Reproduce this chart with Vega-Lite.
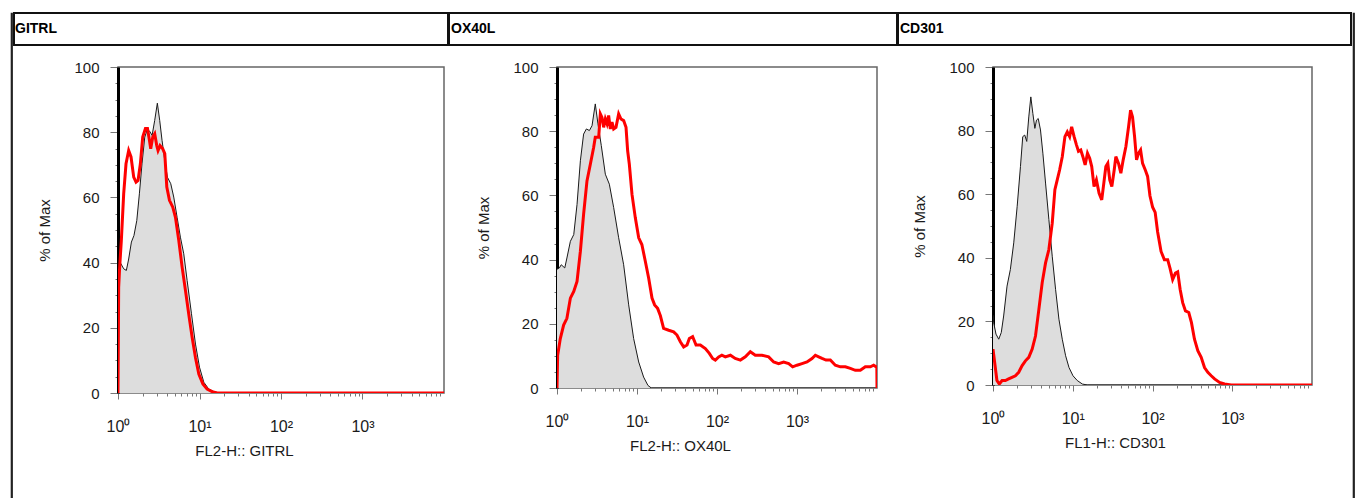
{
  "$schema": "https://vega.github.io/schema/vega-lite/v6.json",
  "padding": {"left": 10, "top": 12, "right": 0, "bottom": 0},
  "background": "white",
  "config": {
    "font": "Liberation Sans",
    "view": {"stroke": null},
    "axis": {"labelFont": "Liberation Sans", "titleFont": "Liberation Sans", "labelColor": "#1a1a1a", "titleColor": "#1a1a1a", "tickColor": "#777777", "grid": false, "labelFontSize": 15, "titleFontSize": 15, "titleFontWeight": "normal"}
  },
  "datasets": {
    "headers": [{"h": "GITRL"}, {"h": "OX40L"}, {"h": "CD301"}],
    "hist": [
      {"p": "GITRL", "s": "iso", "x": 1.0, "y": 38}, {"p": "GITRL", "s": "iso", "x": 1.04, "y": 38.6}, {"p": "GITRL", "s": "iso", "x": 1.078, "y": 39.8}, {"p": "GITRL", "s": "iso", "x": 1.174, "y": 38.1}, {"p": "GITRL", "s": "iso", "x": 1.266, "y": 37.6}, {"p": "GITRL", "s": "iso", "x": 1.352, "y": 41.1}, {"p": "GITRL", "s": "iso", "x": 1.46, "y": 46.3}, {"p": "GITRL", "s": "iso", "x": 1.57, "y": 48.3}, {"p": "GITRL", "s": "iso", "x": 1.7, "y": 52.9}, {"p": "GITRL", "s": "iso", "x": 1.83, "y": 61.1}, {"p": "GITRL", "s": "iso", "x": 1.97, "y": 70.3}, {"p": "GITRL", "s": "iso", "x": 2.13, "y": 78.5}, {"p": "GITRL", "s": "iso", "x": 2.27, "y": 80.6}, {"p": "GITRL", "s": "iso", "x": 2.45, "y": 80.3}, {"p": "GITRL", "s": "iso", "x": 2.62, "y": 79.0}, {"p": "GITRL", "s": "iso", "x": 2.82, "y": 83.6}, {"p": "GITRL", "s": "iso", "x": 3.04, "y": 88.9}, {"p": "GITRL", "s": "iso", "x": 3.25, "y": 83.6}, {"p": "GITRL", "s": "iso", "x": 3.47, "y": 77.5}, {"p": "GITRL", "s": "iso", "x": 3.75, "y": 71.3}, {"p": "GITRL", "s": "iso", "x": 4.04, "y": 66.2}, {"p": "GITRL", "s": "iso", "x": 4.44, "y": 64.2}, {"p": "GITRL", "s": "iso", "x": 4.83, "y": 60.1}, {"p": "GITRL", "s": "iso", "x": 5.31, "y": 53.9}, {"p": "GITRL", "s": "iso", "x": 5.83, "y": 47.8}, {"p": "GITRL", "s": "iso", "x": 6.41, "y": 42.7}, {"p": "GITRL", "s": "iso", "x": 7.05, "y": 34.5}, {"p": "GITRL", "s": "iso", "x": 7.97, "y": 24.3}, {"p": "GITRL", "s": "iso", "x": 8.93, "y": 15.0}, {"p": "GITRL", "s": "iso", "x": 10.0, "y": 7.9}, {"p": "GITRL", "s": "iso", "x": 11.3, "y": 3.3}, {"p": "GITRL", "s": "iso", "x": 13.0, "y": 1.2}, {"p": "GITRL", "s": "iso", "x": 15.4, "y": 0.3}, {"p": "GITRL", "s": "iso", "x": 18.1, "y": 0}, {"p": "GITRL", "s": "iso", "x": 10000, "y": 0},
      {"p": "GITRL", "s": "red", "x": 1.0, "y": 0}, {"p": "GITRL", "s": "red", "x": 1.019, "y": 32.4}, {"p": "GITRL", "s": "red", "x": 1.048, "y": 38.6}, {"p": "GITRL", "s": "red", "x": 1.099, "y": 46.8}, {"p": "GITRL", "s": "red", "x": 1.174, "y": 61.1}, {"p": "GITRL", "s": "red", "x": 1.254, "y": 70.3}, {"p": "GITRL", "s": "red", "x": 1.352, "y": 74.4}, {"p": "GITRL", "s": "red", "x": 1.445, "y": 72.4}, {"p": "GITRL", "s": "red", "x": 1.559, "y": 66.2}, {"p": "GITRL", "s": "red", "x": 1.665, "y": 64.7}, {"p": "GITRL", "s": "red", "x": 1.762, "y": 65.2}, {"p": "GITRL", "s": "red", "x": 1.882, "y": 70.3}, {"p": "GITRL", "s": "red", "x": 2.01, "y": 78.5}, {"p": "GITRL", "s": "red", "x": 2.17, "y": 81.1}, {"p": "GITRL", "s": "red", "x": 2.3, "y": 81.1}, {"p": "GITRL", "s": "red", "x": 2.43, "y": 77.5}, {"p": "GITRL", "s": "red", "x": 2.52, "y": 74.9}, {"p": "GITRL", "s": "red", "x": 2.67, "y": 78.5}, {"p": "GITRL", "s": "red", "x": 2.82, "y": 79.5}, {"p": "GITRL", "s": "red", "x": 2.99, "y": 75.9}, {"p": "GITRL", "s": "red", "x": 3.1, "y": 74.4}, {"p": "GITRL", "s": "red", "x": 3.28, "y": 75.9}, {"p": "GITRL", "s": "red", "x": 3.54, "y": 74.9}, {"p": "GITRL", "s": "red", "x": 3.75, "y": 73.4}, {"p": "GITRL", "s": "red", "x": 3.97, "y": 63.2}, {"p": "GITRL", "s": "red", "x": 4.28, "y": 59.1}, {"p": "GITRL", "s": "red", "x": 4.7, "y": 57.0}, {"p": "GITRL", "s": "red", "x": 5.07, "y": 53.9}, {"p": "GITRL", "s": "red", "x": 5.57, "y": 46.8}, {"p": "GITRL", "s": "red", "x": 6.12, "y": 38.6}, {"p": "GITRL", "s": "red", "x": 6.73, "y": 31.4}, {"p": "GITRL", "s": "red", "x": 7.39, "y": 24.1}, {"p": "GITRL", "s": "red", "x": 8.13, "y": 17.0}, {"p": "GITRL", "s": "red", "x": 8.93, "y": 10.8}, {"p": "GITRL", "s": "red", "x": 9.81, "y": 5.8}, {"p": "GITRL", "s": "red", "x": 11.0, "y": 2.8}, {"p": "GITRL", "s": "red", "x": 12.4, "y": 1.2}, {"p": "GITRL", "s": "red", "x": 14.3, "y": 0.4}, {"p": "GITRL", "s": "red", "x": 16.5, "y": 0}, {"p": "GITRL", "s": "red", "x": 10000, "y": 0},
      {"p": "OX40L", "s": "iso", "x": 1.0, "y": 37}, {"p": "OX40L", "s": "iso", "x": 1.07, "y": 37.4}, {"p": "OX40L", "s": "iso", "x": 1.13, "y": 38.4}, {"p": "OX40L", "s": "iso", "x": 1.25, "y": 37.4}, {"p": "OX40L", "s": "iso", "x": 1.33, "y": 40.5}, {"p": "OX40L", "s": "iso", "x": 1.47, "y": 45.7}, {"p": "OX40L", "s": "iso", "x": 1.62, "y": 47.8}, {"p": "OX40L", "s": "iso", "x": 1.78, "y": 57.2}, {"p": "OX40L", "s": "iso", "x": 1.96, "y": 70.8}, {"p": "OX40L", "s": "iso", "x": 2.15, "y": 79.1}, {"p": "OX40L", "s": "iso", "x": 2.33, "y": 80.7}, {"p": "OX40L", "s": "iso", "x": 2.54, "y": 80.2}, {"p": "OX40L", "s": "iso", "x": 2.74, "y": 81.7}, {"p": "OX40L", "s": "iso", "x": 3.01, "y": 88.5}, {"p": "OX40L", "s": "iso", "x": 3.25, "y": 82.3}, {"p": "OX40L", "s": "iso", "x": 3.58, "y": 75.5}, {"p": "OX40L", "s": "iso", "x": 4.02, "y": 66.6}, {"p": "OX40L", "s": "iso", "x": 4.51, "y": 63.5}, {"p": "OX40L", "s": "iso", "x": 5.11, "y": 56.2}, {"p": "OX40L", "s": "iso", "x": 5.9, "y": 46.8}, {"p": "OX40L", "s": "iso", "x": 6.81, "y": 38.4}, {"p": "OX40L", "s": "iso", "x": 7.87, "y": 25.9}, {"p": "OX40L", "s": "iso", "x": 9.08, "y": 15.4}, {"p": "OX40L", "s": "iso", "x": 10.5, "y": 8.1}, {"p": "OX40L", "s": "iso", "x": 12.1, "y": 3.4}, {"p": "OX40L", "s": "iso", "x": 13.7, "y": 0.8}, {"p": "OX40L", "s": "iso", "x": 15.1, "y": 0}, {"p": "OX40L", "s": "iso", "x": 10000, "y": 0},
      {"p": "OX40L", "s": "red", "x": 1.0, "y": 0}, {"p": "OX40L", "s": "red", "x": 1.019, "y": 10.2}, {"p": "OX40L", "s": "red", "x": 1.1, "y": 15.4}, {"p": "OX40L", "s": "red", "x": 1.21, "y": 19.6}, {"p": "OX40L", "s": "red", "x": 1.33, "y": 21.7}, {"p": "OX40L", "s": "red", "x": 1.47, "y": 28.0}, {"p": "OX40L", "s": "red", "x": 1.62, "y": 30.1}, {"p": "OX40L", "s": "red", "x": 1.78, "y": 33.2}, {"p": "OX40L", "s": "red", "x": 1.96, "y": 42.6}, {"p": "OX40L", "s": "red", "x": 2.15, "y": 54.1}, {"p": "OX40L", "s": "red", "x": 2.37, "y": 64.5}, {"p": "OX40L", "s": "red", "x": 2.61, "y": 69.7}, {"p": "OX40L", "s": "red", "x": 2.87, "y": 74.9}, {"p": "OX40L", "s": "red", "x": 3.01, "y": 78.1}, {"p": "OX40L", "s": "red", "x": 3.32, "y": 78.1}, {"p": "OX40L", "s": "red", "x": 3.48, "y": 85.4}, {"p": "OX40L", "s": "red", "x": 3.65, "y": 84.3}, {"p": "OX40L", "s": "red", "x": 3.83, "y": 81.2}, {"p": "OX40L", "s": "red", "x": 4.02, "y": 83.8}, {"p": "OX40L", "s": "red", "x": 4.22, "y": 82.3}, {"p": "OX40L", "s": "red", "x": 4.42, "y": 84.9}, {"p": "OX40L", "s": "red", "x": 4.64, "y": 80.7}, {"p": "OX40L", "s": "red", "x": 4.87, "y": 82.8}, {"p": "OX40L", "s": "red", "x": 5.11, "y": 80.7}, {"p": "OX40L", "s": "red", "x": 5.46, "y": 81.2}, {"p": "OX40L", "s": "red", "x": 5.9, "y": 85.4}, {"p": "OX40L", "s": "red", "x": 6.31, "y": 83.8}, {"p": "OX40L", "s": "red", "x": 6.81, "y": 83.3}, {"p": "OX40L", "s": "red", "x": 7.29, "y": 81.2}, {"p": "OX40L", "s": "red", "x": 7.64, "y": 73.9}, {"p": "OX40L", "s": "red", "x": 8.02, "y": 69.7}, {"p": "OX40L", "s": "red", "x": 8.66, "y": 60.3}, {"p": "OX40L", "s": "red", "x": 9.53, "y": 53.0}, {"p": "OX40L", "s": "red", "x": 10.5, "y": 46.8}, {"p": "OX40L", "s": "red", "x": 11.5, "y": 44.7}, {"p": "OX40L", "s": "red", "x": 12.7, "y": 39.5}, {"p": "OX40L", "s": "red", "x": 14.0, "y": 34.2}, {"p": "OX40L", "s": "red", "x": 15.4, "y": 28.0}, {"p": "OX40L", "s": "red", "x": 16.6, "y": 25.9}, {"p": "OX40L", "s": "red", "x": 18.1, "y": 24.8}, {"p": "OX40L", "s": "red", "x": 19.6, "y": 22.5}, {"p": "OX40L", "s": "red", "x": 21.5, "y": 18.6}, {"p": "OX40L", "s": "red", "x": 24.9, "y": 18.0}, {"p": "OX40L", "s": "red", "x": 28.7, "y": 17.5}, {"p": "OX40L", "s": "red", "x": 31.6, "y": 16.5}, {"p": "OX40L", "s": "red", "x": 34.8, "y": 14.4}, {"p": "OX40L", "s": "red", "x": 38.3, "y": 12.8}, {"p": "OX40L", "s": "red", "x": 42.2, "y": 13.4}, {"p": "OX40L", "s": "red", "x": 45.1, "y": 15.4}, {"p": "OX40L", "s": "red", "x": 49.6, "y": 16.0}, {"p": "OX40L", "s": "red", "x": 54.7, "y": 13.4}, {"p": "OX40L", "s": "red", "x": 61.9, "y": 13.4}, {"p": "OX40L", "s": "red", "x": 71.5, "y": 12.3}, {"p": "OX40L", "s": "red", "x": 80.2, "y": 10.8}, {"p": "OX40L", "s": "red", "x": 88.2, "y": 9.2}, {"p": "OX40L", "s": "red", "x": 95.3, "y": 8.7}, {"p": "OX40L", "s": "red", "x": 105, "y": 9.7}, {"p": "OX40L", "s": "red", "x": 115, "y": 10.2}, {"p": "OX40L", "s": "red", "x": 127, "y": 9.7}, {"p": "OX40L", "s": "red", "x": 147, "y": 10.2}, {"p": "OX40L", "s": "red", "x": 169, "y": 9.2}, {"p": "OX40L", "s": "red", "x": 196, "y": 8.7}, {"p": "OX40L", "s": "red", "x": 226, "y": 9.7}, {"p": "OX40L", "s": "red", "x": 261, "y": 11.3}, {"p": "OX40L", "s": "red", "x": 301, "y": 10.2}, {"p": "OX40L", "s": "red", "x": 365, "y": 10.2}, {"p": "OX40L", "s": "red", "x": 442, "y": 9.7}, {"p": "OX40L", "s": "red", "x": 511, "y": 8.1}, {"p": "OX40L", "s": "red", "x": 590, "y": 7.6}, {"p": "OX40L", "s": "red", "x": 681, "y": 8.1}, {"p": "OX40L", "s": "red", "x": 787, "y": 7.6}, {"p": "OX40L", "s": "red", "x": 883, "y": 6.6}, {"p": "OX40L", "s": "red", "x": 1000, "y": 7.1}, {"p": "OX40L", "s": "red", "x": 1155, "y": 7.6}, {"p": "OX40L", "s": "red", "x": 1334, "y": 8.1}, {"p": "OX40L", "s": "red", "x": 1540, "y": 9.2}, {"p": "OX40L", "s": "red", "x": 1695, "y": 10.2}, {"p": "OX40L", "s": "red", "x": 1866, "y": 9.7}, {"p": "OX40L", "s": "red", "x": 2054, "y": 9.2}, {"p": "OX40L", "s": "red", "x": 2305, "y": 8.7}, {"p": "OX40L", "s": "red", "x": 2610, "y": 8.7}, {"p": "OX40L", "s": "red", "x": 3013, "y": 7.1}, {"p": "OX40L", "s": "red", "x": 3481, "y": 6.6}, {"p": "OX40L", "s": "red", "x": 4019, "y": 6.6}, {"p": "OX40L", "s": "red", "x": 4642, "y": 6.1}, {"p": "OX40L", "s": "red", "x": 5359, "y": 5.5}, {"p": "OX40L", "s": "red", "x": 6190, "y": 5.5}, {"p": "OX40L", "s": "red", "x": 7145, "y": 6.6}, {"p": "OX40L", "s": "red", "x": 8254, "y": 6.6}, {"p": "OX40L", "s": "red", "x": 9082, "y": 7.1}, {"p": "OX40L", "s": "red", "x": 9716, "y": 6.6}, {"p": "OX40L", "s": "red", "x": 9950, "y": 6.6}, {"p": "OX40L", "s": "red", "x": 10000, "y": 0},
      {"p": "CD301", "s": "iso", "x": 1.0, "y": 22}, {"p": "CD301", "s": "iso", "x": 1.02, "y": 19.6}, {"p": "CD301", "s": "iso", "x": 1.09, "y": 16.0}, {"p": "CD301", "s": "iso", "x": 1.18, "y": 14.4}, {"p": "CD301", "s": "iso", "x": 1.27, "y": 16.5}, {"p": "CD301", "s": "iso", "x": 1.36, "y": 21.7}, {"p": "CD301", "s": "iso", "x": 1.5, "y": 31.1}, {"p": "CD301", "s": "iso", "x": 1.65, "y": 36.3}, {"p": "CD301", "s": "iso", "x": 1.82, "y": 44.7}, {"p": "CD301", "s": "iso", "x": 2.01, "y": 56.2}, {"p": "CD301", "s": "iso", "x": 2.21, "y": 68.7}, {"p": "CD301", "s": "iso", "x": 2.36, "y": 78.1}, {"p": "CD301", "s": "iso", "x": 2.5, "y": 78.6}, {"p": "CD301", "s": "iso", "x": 2.65, "y": 76.6}, {"p": "CD301", "s": "iso", "x": 2.81, "y": 84.3}, {"p": "CD301", "s": "iso", "x": 2.98, "y": 90.6}, {"p": "CD301", "s": "iso", "x": 3.16, "y": 85.4}, {"p": "CD301", "s": "iso", "x": 3.35, "y": 80.7}, {"p": "CD301", "s": "iso", "x": 3.51, "y": 83.3}, {"p": "CD301", "s": "iso", "x": 3.69, "y": 83.8}, {"p": "CD301", "s": "iso", "x": 3.94, "y": 80.2}, {"p": "CD301", "s": "iso", "x": 4.22, "y": 72.9}, {"p": "CD301", "s": "iso", "x": 4.56, "y": 63.5}, {"p": "CD301", "s": "iso", "x": 5.02, "y": 52.0}, {"p": "CD301", "s": "iso", "x": 5.53, "y": 40.5}, {"p": "CD301", "s": "iso", "x": 6.09, "y": 30.1}, {"p": "CD301", "s": "iso", "x": 6.71, "y": 20.7}, {"p": "CD301", "s": "iso", "x": 7.39, "y": 14.4}, {"p": "CD301", "s": "iso", "x": 8.14, "y": 9.2}, {"p": "CD301", "s": "iso", "x": 8.97, "y": 5.5}, {"p": "CD301", "s": "iso", "x": 10.07, "y": 2.9}, {"p": "CD301", "s": "iso", "x": 11.4, "y": 1.4}, {"p": "CD301", "s": "iso", "x": 13.2, "y": 0.3}, {"p": "CD301", "s": "iso", "x": 15.3, "y": 0}, {"p": "CD301", "s": "iso", "x": 10000, "y": 0},
      {"p": "CD301", "s": "red", "x": 1.0, "y": 11.3}, {"p": "CD301", "s": "red", "x": 1.12, "y": 1.4}, {"p": "CD301", "s": "red", "x": 1.2, "y": 0.3}, {"p": "CD301", "s": "red", "x": 1.3, "y": 1.4}, {"p": "CD301", "s": "red", "x": 1.43, "y": 1.4}, {"p": "CD301", "s": "red", "x": 1.57, "y": 1.9}, {"p": "CD301", "s": "red", "x": 1.73, "y": 2.4}, {"p": "CD301", "s": "red", "x": 1.91, "y": 2.9}, {"p": "CD301", "s": "red", "x": 2.1, "y": 4.0}, {"p": "CD301", "s": "red", "x": 2.32, "y": 6.1}, {"p": "CD301", "s": "red", "x": 2.55, "y": 7.6}, {"p": "CD301", "s": "red", "x": 2.81, "y": 8.7}, {"p": "CD301", "s": "red", "x": 3.1, "y": 11.3}, {"p": "CD301", "s": "red", "x": 3.41, "y": 15.4}, {"p": "CD301", "s": "red", "x": 3.76, "y": 23.8}, {"p": "CD301", "s": "red", "x": 4.14, "y": 32.2}, {"p": "CD301", "s": "red", "x": 4.56, "y": 38.4}, {"p": "CD301", "s": "red", "x": 5.02, "y": 42.6}, {"p": "CD301", "s": "red", "x": 5.53, "y": 50.9}, {"p": "CD301", "s": "red", "x": 5.97, "y": 61.4}, {"p": "CD301", "s": "red", "x": 6.39, "y": 64.5}, {"p": "CD301", "s": "red", "x": 6.84, "y": 67.6}, {"p": "CD301", "s": "red", "x": 7.39, "y": 71.8}, {"p": "CD301", "s": "red", "x": 7.98, "y": 78.1}, {"p": "CD301", "s": "red", "x": 8.54, "y": 79.6}, {"p": "CD301", "s": "red", "x": 9.14, "y": 78.1}, {"p": "CD301", "s": "red", "x": 9.69, "y": 81.2}, {"p": "CD301", "s": "red", "x": 10.4, "y": 78.1}, {"p": "CD301", "s": "red", "x": 11.1, "y": 75.6}, {"p": "CD301", "s": "red", "x": 11.8, "y": 73.5}, {"p": "CD301", "s": "red", "x": 12.6, "y": 73.9}, {"p": "CD301", "s": "red", "x": 13.4, "y": 71.8}, {"p": "CD301", "s": "red", "x": 14.3, "y": 69.2}, {"p": "CD301", "s": "red", "x": 15.3, "y": 72.9}, {"p": "CD301", "s": "red", "x": 16.3, "y": 71.3}, {"p": "CD301", "s": "red", "x": 17.3, "y": 68.7}, {"p": "CD301", "s": "red", "x": 18.5, "y": 62.4}, {"p": "CD301", "s": "red", "x": 19.8, "y": 64.5}, {"p": "CD301", "s": "red", "x": 21.4, "y": 60.3}, {"p": "CD301", "s": "red", "x": 23.1, "y": 58.2}, {"p": "CD301", "s": "red", "x": 24.5, "y": 63.4}, {"p": "CD301", "s": "red", "x": 26.0, "y": 68.7}, {"p": "CD301", "s": "red", "x": 27.5, "y": 69.7}, {"p": "CD301", "s": "red", "x": 29.1, "y": 64.5}, {"p": "CD301", "s": "red", "x": 30.9, "y": 62.4}, {"p": "CD301", "s": "red", "x": 33.1, "y": 67.6}, {"p": "CD301", "s": "red", "x": 34.7, "y": 71.8}, {"p": "CD301", "s": "red", "x": 37.5, "y": 69.7}, {"p": "CD301", "s": "red", "x": 40.1, "y": 66.6}, {"p": "CD301", "s": "red", "x": 42.9, "y": 70.8}, {"p": "CD301", "s": "red", "x": 46.4, "y": 75.0}, {"p": "CD301", "s": "red", "x": 50.1, "y": 81.2}, {"p": "CD301", "s": "red", "x": 53.1, "y": 86.4}, {"p": "CD301", "s": "red", "x": 56.2, "y": 84.3}, {"p": "CD301", "s": "red", "x": 59.6, "y": 78.1}, {"p": "CD301", "s": "red", "x": 63.1, "y": 70.8}, {"p": "CD301", "s": "red", "x": 66.9, "y": 72.9}, {"p": "CD301", "s": "red", "x": 70.9, "y": 73.9}, {"p": "CD301", "s": "red", "x": 75.1, "y": 69.7}, {"p": "CD301", "s": "red", "x": 81.2, "y": 67.6}, {"p": "CD301", "s": "red", "x": 86.8, "y": 65.6}, {"p": "CD301", "s": "red", "x": 92.9, "y": 59.5}, {"p": "CD301", "s": "red", "x": 100.4, "y": 55.9}, {"p": "CD301", "s": "red", "x": 108, "y": 54.3}, {"p": "CD301", "s": "red", "x": 116, "y": 48.1}, {"p": "CD301", "s": "red", "x": 128, "y": 42.0}, {"p": "CD301", "s": "red", "x": 141, "y": 39.4}, {"p": "CD301", "s": "red", "x": 155, "y": 39.4}, {"p": "CD301", "s": "red", "x": 166, "y": 36.7}, {"p": "CD301", "s": "red", "x": 179, "y": 33.2}, {"p": "CD301", "s": "red", "x": 194, "y": 35.2}, {"p": "CD301", "s": "red", "x": 207, "y": 35.6}, {"p": "CD301", "s": "red", "x": 222, "y": 30.1}, {"p": "CD301", "s": "red", "x": 239, "y": 25.9}, {"p": "CD301", "s": "red", "x": 259, "y": 23.3}, {"p": "CD301", "s": "red", "x": 285, "y": 22.8}, {"p": "CD301", "s": "red", "x": 308, "y": 19.6}, {"p": "CD301", "s": "red", "x": 336, "y": 14.4}, {"p": "CD301", "s": "red", "x": 370, "y": 10.8}, {"p": "CD301", "s": "red", "x": 408, "y": 8.7}, {"p": "CD301", "s": "red", "x": 449, "y": 5.5}, {"p": "CD301", "s": "red", "x": 494, "y": 4.0}, {"p": "CD301", "s": "red", "x": 545, "y": 2.9}, {"p": "CD301", "s": "red", "x": 600, "y": 1.9}, {"p": "CD301", "s": "red", "x": 693, "y": 0.8}, {"p": "CD301", "s": "red", "x": 801, "y": 0.3}, {"p": "CD301", "s": "red", "x": 972, "y": 0}, {"p": "CD301", "s": "red", "x": 10000, "y": 0}
    ]
  },
  "spacing": 0,
  "hconcat": [
    {"width": 1, "height": 486, "view": {"stroke": "#222222", "strokeWidth": 1.2}, "data": {"values": [{"k": 1}]}, "mark": {"type": "point", "size": 0, "strokeWidth": 0, "opacity": 0}, "encoding": {}},
    {
      "spacing": 13,
      "vconcat": [
        {
          "spacing": -2,
          "hconcat": [
            {"width": 434, "height": 32, "view": {"stroke": "#111111", "strokeWidth": 2}, "data": {"name": "headers"}, "transform": [{"filter": "datum.h === 'GITRL'"}], "mark": {"type": "text", "align": "left", "baseline": "middle", "dx": 1, "fontWeight": "bold", "fontSize": 14, "color": "#000000"}, "encoding": {"text": {"field": "h"}, "x": {"field": "h", "type": "nominal", "bandPosition": 0, "axis": null, "scale": {"type": "band", "paddingInner": 0, "paddingOuter": 0}}}},
            {"width": 448, "height": 32, "view": {"stroke": "#111111", "strokeWidth": 2}, "data": {"name": "headers"}, "transform": [{"filter": "datum.h === 'OX40L'"}], "mark": {"type": "text", "align": "left", "baseline": "middle", "dx": 2, "fontWeight": "bold", "fontSize": 14, "color": "#000000"}, "encoding": {"text": {"field": "h"}, "x": {"field": "h", "type": "nominal", "bandPosition": 0, "axis": null, "scale": {"type": "band", "paddingInner": 0, "paddingOuter": 0}}}},
            {"width": 453, "height": 32, "view": {"stroke": "#111111", "strokeWidth": 2}, "data": {"name": "headers"}, "transform": [{"filter": "datum.h === 'CD301'"}], "mark": {"type": "text", "align": "left", "baseline": "middle", "dx": 2, "fontWeight": "bold", "fontSize": 14, "color": "#000000"}, "encoding": {"text": {"field": "h"}, "x": {"field": "h", "type": "nominal", "bandPosition": 0, "axis": null, "scale": {"type": "band", "paddingInner": 0, "paddingOuter": 0}}}}
          ]
        },
        {
          "spacing": 0,
          "hconcat": [
            {"width": 23, "height": 10, "data": {"values": [{"k": 1}]}, "mark": {"type": "point", "size": 0, "strokeWidth": 0, "opacity": 0}, "encoding": {}},
            {
              "spacing": 34,
              "hconcat": [
                {
                  "spacing": 31,
                  "hconcat": [
                    {
                      "width": 326, "height": 326,
                      "view": {"stroke": "#666666", "strokeWidth": 1.5},
                      "data": {"name": "hist"},
                      "transform": [{"filter": "datum.p === 'GITRL'"}],
                      "encoding": {
                        "x": {"field": "x", "type": "quantitative", "scale": {"type": "log", "domain": [1, 10000], "nice": false}, "axis": {"title": "FL2-H:: GITRL", "values": [1,2,3,4,5,6,7,8,9,10,20,30,40,50,60,70,80,90,100,200,300,400,500,600,700,800,900,1000,2000,3000,4000,5000,6000,7000,8000,9000], "labelExpr": "datum.value === 1 ? '10⁰' : datum.value === 10 ? '10¹' : datum.value === 100 ? '10²' : datum.value === 1000 ? '10³' : ''", "labelOverlap": false, "labelFlush": false, "labelFontSize": 16, "domain": false, "tickSize": {"condition": {"test": "datum.value === 1 || datum.value === 10 || datum.value === 100 || datum.value === 1000", "value": 6}, "value": 3}, "labelPadding": 19, "titlePadding": 9, "titleX": 126, "titleAlign": "center"}},
                        "y": {"field": "y", "type": "quantitative", "scale": {"domain": [0, 100], "nice": false}, "axis": {"title": "% of Max", "values": [0,5,10,15,20,25,30,35,40,45,50,55,60,65,70,75,80,85,90,95,100], "labelExpr": "datum.value % 20 === 0 ? datum.label : ''", "labelOverlap": false, "domainColor": "#000000", "domainWidth": 3, "tickSize": {"condition": {"test": "datum.value % 20 === 0", "value": 8}, "value": 3}, "labelPadding": 11, "titlePadding": 21}}
                      },
                      "layer": [
                        {"transform": [{"filter": "datum.s === 'iso'"}], "mark": {"type": "area", "color": "#dddddd", "clip": true}},
                        {"transform": [{"filter": "datum.s === 'iso'"}], "mark": {"type": "line", "color": "#1a1a1a", "strokeWidth": 1, "clip": true}},
                        {"transform": [{"filter": "datum.s === 'red'"}], "mark": {"type": "line", "color": "#ff0000", "strokeWidth": 3, "clip": true}}
                      ]
                    },
                    {
                      "width": 320, "height": 321,
                      "view": {"stroke": "#666666", "strokeWidth": 1.5},
                      "data": {"name": "hist"},
                      "transform": [{"filter": "datum.p === 'OX40L'"}],
                      "encoding": {
                        "x": {"field": "x", "type": "quantitative", "scale": {"type": "log", "domain": [1, 10000], "nice": false}, "axis": {"title": "FL2-H:: OX40L", "values": [1,2,3,4,5,6,7,8,9,10,20,30,40,50,60,70,80,90,100,200,300,400,500,600,700,800,900,1000,2000,3000,4000,5000,6000,7000,8000,9000], "labelExpr": "datum.value === 1 ? '10⁰' : datum.value === 10 ? '10¹' : datum.value === 100 ? '10²' : datum.value === 1000 ? '10³' : ''", "labelOverlap": false, "labelFlush": false, "labelFontSize": 16, "domain": false, "tickSize": {"condition": {"test": "datum.value === 1 || datum.value === 10 || datum.value === 100 || datum.value === 1000", "value": 6}, "value": 3}, "labelPadding": 19, "titlePadding": 9, "titleX": 123, "titleAlign": "center"}},
                        "y": {"field": "y", "type": "quantitative", "scale": {"domain": [0, 100], "nice": false}, "axis": {"title": "% of Max", "values": [0,5,10,15,20,25,30,35,40,45,50,55,60,65,70,75,80,85,90,95,100], "labelExpr": "datum.value % 20 === 0 ? datum.label : ''", "labelOverlap": false, "domainColor": "#000000", "domainWidth": 3, "tickSize": {"condition": {"test": "datum.value % 20 === 0", "value": 8}, "value": 3}, "labelPadding": 11, "titlePadding": 21}}
                      },
                      "layer": [
                        {"transform": [{"filter": "datum.s === 'iso'"}], "mark": {"type": "area", "color": "#dddddd", "clip": true}},
                        {"transform": [{"filter": "datum.s === 'iso'"}], "mark": {"type": "line", "color": "#1a1a1a", "strokeWidth": 1, "clip": true}},
                        {"transform": [{"filter": "datum.s === 'red'"}], "mark": {"type": "line", "color": "#ff0000", "strokeWidth": 3, "clip": true}}
                      ]
                    }
                  ]
                },
                {
                  "width": 319, "height": 318,
                  "view": {"stroke": "#666666", "strokeWidth": 1.5},
                  "data": {"name": "hist"},
                  "transform": [{"filter": "datum.p === 'CD301'"}],
                  "encoding": {
                    "x": {"field": "x", "type": "quantitative", "scale": {"type": "log", "domain": [1, 10000], "nice": false}, "axis": {"title": "FL1-H:: CD301", "values": [1,2,3,4,5,6,7,8,9,10,20,30,40,50,60,70,80,90,100,200,300,400,500,600,700,800,900,1000,2000,3000,4000,5000,6000,7000,8000,9000], "labelExpr": "datum.value === 1 ? '10⁰' : datum.value === 10 ? '10¹' : datum.value === 100 ? '10²' : datum.value === 1000 ? '10³' : ''", "labelOverlap": false, "labelFlush": false, "labelFontSize": 16, "domain": false, "tickSize": {"condition": {"test": "datum.value === 1 || datum.value === 10 || datum.value === 100 || datum.value === 1000", "value": 6}, "value": 3}, "labelPadding": 19, "titlePadding": 9, "titleX": 122, "titleAlign": "center"}},
                    "y": {"field": "y", "type": "quantitative", "scale": {"domain": [0, 100], "nice": false}, "axis": {"title": "% of Max", "values": [0,5,10,15,20,25,30,35,40,45,50,55,60,65,70,75,80,85,90,95,100], "labelExpr": "datum.value % 20 === 0 ? datum.label : ''", "labelOverlap": false, "domainColor": "#000000", "domainWidth": 3, "tickSize": {"condition": {"test": "datum.value % 20 === 0", "value": 8}, "value": 3}, "labelPadding": 11, "titlePadding": 21}}
                  },
                  "layer": [
                    {"transform": [{"filter": "datum.s === 'iso'"}], "mark": {"type": "area", "color": "#dddddd", "clip": true}},
                    {"transform": [{"filter": "datum.s === 'iso'"}], "mark": {"type": "line", "color": "#1a1a1a", "strokeWidth": 1, "clip": true}},
                    {"transform": [{"filter": "datum.s === 'red'"}], "mark": {"type": "line", "color": "#ff0000", "strokeWidth": 3, "clip": true}}
                  ]
                }
              ]
            }
          ]
        }
      ]
    },
    {"width": 1, "height": 486, "view": {"stroke": "#222222", "strokeWidth": 1.2}, "data": {"values": [{"k": 1}]}, "mark": {"type": "point", "size": 0, "strokeWidth": 0, "opacity": 0}, "encoding": {}}
  ]
}
